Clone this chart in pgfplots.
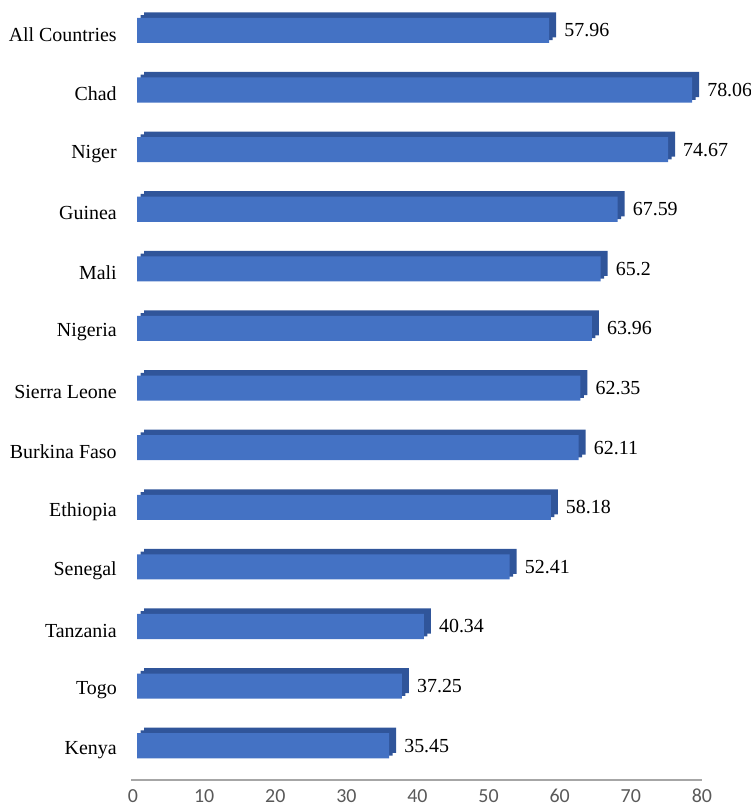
\documentclass[border=0pt]{standalone}
\usepackage{fontspec}
\setmainfont{Liberation Serif}
\newfontfamily\tickfont{Carlito}
\usepackage{pgfplots}
\pgfplotsset{compat=1.18}
\usepackage{pgfplotstable}

\definecolor{barfront}{HTML}{4472C4}
\definecolor{bartop}{HTML}{30559A}
\definecolor{axisgray}{HTML}{A6A6A6}
\definecolor{ticktext}{HTML}{595959}

% idx val label
\pgfplotstableread{
idx val lab
0  57.96 57.96
1  78.06 78.06
2  74.67 74.67
3  67.59 67.59
4  65.2  65.2
5  63.96 63.96
6  62.35 62.35
7  62.11 62.11
8  58.18 58.18
9  52.41 52.41
10 40.34 40.34
11 37.25 37.25
12 35.45 35.45
}\rates

\begin{document}
\begin{tikzpicture}
\begin{axis}[
  name=ax,
  scale only axis,
  width=571bp, height=780bp,
  xmin=-0.3, xmax=80,
  ymin=-0.51, ymax=12.575,
  y dir=reverse,
  clip=false,
  axis x line*=bottom,
  axis y line*=left,
  x axis line style={-, draw=axisgray, line width=1.3bp},
  y axis line style={draw=none},
  xtick={0,10,...,80},
  ytick={0,...,12},
  yticklabels={All Countries,Chad,Niger,Guinea,Mali,Nigeria,Sierra Leone,Burkina Faso,Ethiopia,Senegal,Tanzania,Togo,Kenya},
  major tick length=0pt,
  tick style={draw=none},
  /pgf/number format/assume math mode=true,
  xticklabel style={font=\tickfont\fontsize{20}{24}\selectfont, text=ticktext, inner sep=0pt, text depth=0pt, anchor=north, yshift=-9bp},
  yticklabel style={font=\fontsize{20}{24}\selectfont, inner sep=0pt, anchor=east, xshift=-14bp, yshift=-4bp},
  bar width=0.42,
]
% depth faces (top and side), drawn behind the front faces;
% two shifted copies give a stepped bevel
\addplot[xbar, draw=none, fill=bartop, xshift=11bp, yshift=5.5bp]
  table[x=val, y=idx] {\rates};
\addplot[xbar, draw=none, fill=bartop, xshift=7.5bp, yshift=2.75bp]
  table[x=val, y=idx] {\rates};
% front faces with value labels
\addplot[xbar, draw=none, fill=barfront, xshift=4bp,
  point meta=explicit symbolic,
  nodes near coords,
  every node near coord/.append style={font=\fontsize{20}{24}\selectfont, anchor=west, inner sep=0pt, xshift=15bp}]
  table[x=val, y=idx, meta=lab] {\rates};
\end{axis}
\pgfresetboundingbox
\path ([shift={(-130.9bp,-27bp)}]ax.south west) rectangle ([shift={(620.1bp,780bp)}]ax.south west);
\end{tikzpicture}
\end{document}
